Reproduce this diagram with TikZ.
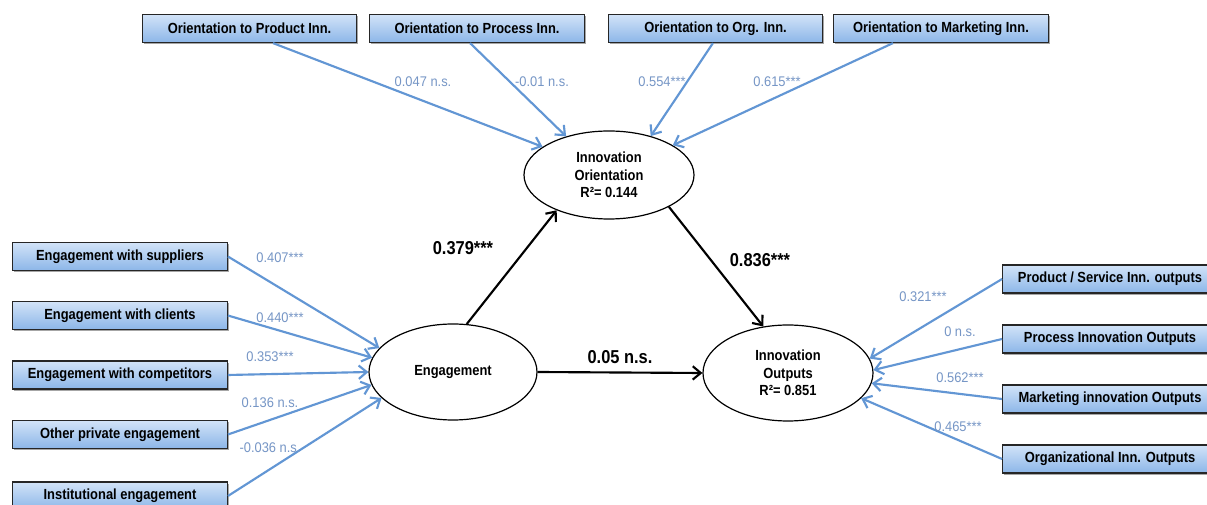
\documentclass[tikz,border=0pt]{standalone}
\usepackage{fontspec}
\setmainfont{Liberation Sans}
\newfontfamily\narrowfont[FakeStretch=0.88]{Liberation Sans}
\newfontfamily\lblfont[FakeStretch=0.92]{Liberation Sans}
\usetikzlibrary{arrows.meta,shapes.geometric,shadows}
\definecolor{boxtop}{RGB}{210,227,248}
\definecolor{boxbot}{RGB}{140,182,232}
\definecolor{arrblue}{RGB}{98,150,212}
\definecolor{lblblue}{RGB}{118,150,198}
\begin{document}
\begin{tikzpicture}[x=0.75pt,y=-0.75pt,
  ibox/.style={draw=black!85, line width=0.9pt, top color=boxtop, bottom color=boxbot,
    minimum width=161pt, minimum height=21pt, inner sep=0pt,
    font=\narrowfont\fontsize{11}{12}\selectfont\bfseries,
    drop shadow={shadow xshift=1.2pt, shadow yshift=-1.5pt, fill=black, opacity=0.35}},
  lat/.style={ellipse, draw, line width=0.9pt, fill=white, inner sep=0pt, align=center,
    font=\narrowfont\fontsize{11}{13.2}\selectfont\bfseries},
  barrow/.style={draw=arrblue, line width=1.6pt, -{Straight Barb[length=6pt,width=10pt]}},
  karrow/.style={draw=black, line width=1.6pt, -{Straight Barb[length=6pt,width=10pt]}},
  lbl/.style={text=lblblue, font=\lblfont\fontsize{10.5}{12}\selectfont},
  blbl/.style={font=\narrowfont\fontsize{14}{16}\selectfont\bfseries}]
\useasboundingbox (0,0) rectangle (1207,505);
\clip (0,0) rectangle (1207,505);
\fill[white] (0,0) rectangle (1207,505);

% top boxes
\node[ibox] (t1) at (249.5,28.5) {Orientation to Product Inn.};
\node[ibox] (t2) at (477,28.5) {Orientation to Process Inn.};
\node[ibox] (t3) at (715.5,28.5) {Orientation to Org. Inn.};
\node[ibox] (t4) at (941,28.5) {Orientation to Marketing Inn.};

% left boxes
\node[ibox] (l1) at (120,256.5) {Engagement with suppliers};
\node[ibox] (l2) at (120,315.5) {Engagement with clients};
\node[ibox] (l3) at (120,375) {Engagement with competitors};
\node[ibox] (l4) at (120,434.5) {Other private engagement};
\node[ibox] (l5) at (120,496) {Institutional engagement};

% right boxes
\node[ibox] (r1) at (1110,279) {Product / Service Inn. outputs};
\node[ibox] (r2) at (1110,339) {Process Innovation Outputs};
\node[ibox] (r3) at (1110,399) {Marketing innovation Outputs};
\node[ibox] (r4) at (1110,459) {Organizational Inn. Outputs};

% latent ellipses
\node[lat, minimum width=127.5pt, minimum height=66pt] (ori) at (609,175) {Innovation\\Orientation\\R²= 0.144};
\node[lat, minimum width=126pt, minimum height=72pt] (eng) at (453,372) {Engagement};
\node[lat, minimum width=127.5pt, minimum height=72pt] (out) at (788,373) {Innovation\\Outputs\\R²= 0.851};

% blue arrows top
\draw[barrow] ([xshift=17.6pt]t1.south) -- (ori.157);
\draw[barrow] ([xshift=-5.2pt]t2.south) -- (ori.138);
\draw[barrow] ([xshift=-1.9pt]t3.south) -- (ori.43);
\draw[barrow] ([xshift=-36pt]t4.south) -- (ori.25);

% blue arrows left
\draw[barrow] (l1.east) -- (eng.162);
\draw[barrow] (l2.east) -- (eng.170);
\draw[barrow] (l3.east) -- (eng.180);
\draw[barrow] (l4.east) -- (eng.189);
\draw[barrow] (l5.east) -- (eng.200);

% blue arrows right
\draw[barrow] (r1.west) -- (out.10);
\draw[barrow] (r2.west) -- (out.2);
\draw[barrow] (r3.west) -- (out.-7);
\draw[barrow] (r4.west) -- (out.-19);

% black structural arrows
\draw[karrow] (eng.74) -- (ori.214);
\draw[karrow] (ori.-28) -- (out.118);
\draw[karrow] (eng.east) -- (out.west);

% coefficient labels
\node[lbl] (c1) at (423,82) {0.047 n.s.};
\node[lbl] (c2) at (542,82) {-0.01 n.s.};
\node[lbl] (c3) at (662,82) {0.554***};
\node[lbl] (c4) at (777,82) {0.615***};
\node[lbl] (c5) at (280,258) {0.407***};
\node[lbl] (c6) at (280,318) {0.440***};
\node[lbl] (c7) at (270,357) {0.353***};
\node[lbl] (c8) at (270,403) {0.136 n.s.};
\node[lbl] (c9) at (270,448) {-0.036 n.s.};
\node[lbl] (c10) at (923,297) {0.321***};
\node[lbl] (c11) at (960,332) {0 n.s.};
\node[lbl] (c12) at (960,378) {0.562***};
\node[lbl] (c13) at (958,427) {0.465***};

\node[blbl] (k1) at (463,248) {0.379***};
\node[blbl] (k2) at (760,260) {0.836***};
\node[blbl] (k3) at (620,357) {0.05 n.s.};
\end{tikzpicture}
\end{document}
